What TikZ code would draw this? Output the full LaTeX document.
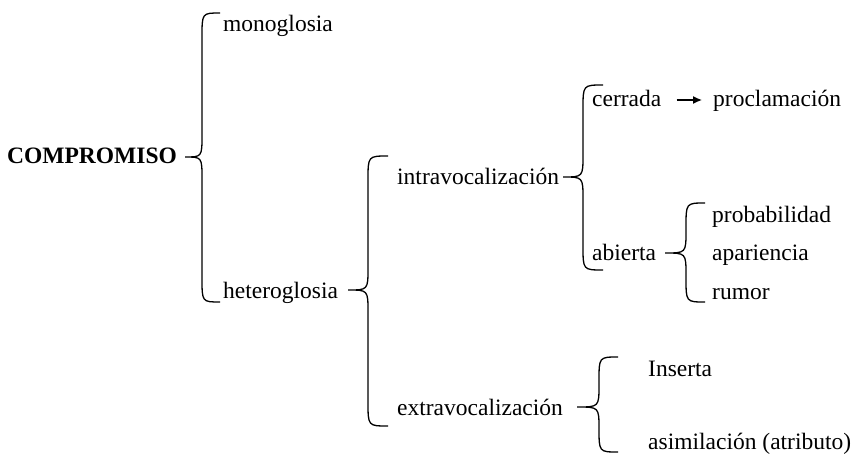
\documentclass[tikz,border=0pt]{standalone}
\usepackage{fontspec}
\setmainfont{Liberation Serif}
\usepackage{tikz}
\usetikzlibrary{calc}
\usetikzlibrary{arrows.meta}
\newcommand{\curly}[6]{\draw[brc] ( #6 , #4 ) .. controls ( #3 , #4 ) .. ( #3 , #4 + 24 ) -- ( #3 , #2 - 22 ) .. controls ( #3 , #2 ) .. ( #1 , #2 ) .. controls ( #3 , #2 ) .. ( #3 , #2 + 22 ) -- ( #3 , #5 - 24 ) .. controls ( #3 , #5 ) .. ( #6 , #5 );}
\tikzset{
  lbl/.style={anchor=base west, inner sep=0pt, font=\fontsize{23.5}{28}\selectfont},
  brc/.style={line width=1.3pt},
  arr/.style={line width=1.3pt, -{Latex[length=9pt,width=8pt]}}
}
\begin{document}
\begin{tikzpicture}[x=1pt, y=-1pt]
            \useasboundingbox (0,0) rectangle (854,455);
            % level 1
            \node[lbl, font=\fontsize{23.5}{28}\selectfont\bfseries] (compromiso) at (7,163) {COMPROMISO};
            \curly{185}{157}{202}{13}{302}{220}
            \node[lbl] (mono) at (223,31) {monoglosia};
            \node[lbl] (hetero) at (223,298) {heteroglosia};
            % level 2
            \curly{348}{290}{368}{156}{426}{388}
            \node[lbl] (intra) at (397,184) {intravocalización};
            \node[lbl] (extra) at (397,415) {extravocalización};
            % level 3
            \curly{563}{177}{583}{85}{270}{603}
            \node[lbl] (cerrada) at (592,106) {cerrada};
            \node[lbl] (procl) at (713,106) {proclamación};
            \draw[arr] ($(cerrada.base east)+(15,-6)$) -- ($(procl.base west)+(-11,-6)$);
            \node[lbl] (abierta) at (592,260) {abierta};
            \curly{665}{253}{686}{203}{302}{705}
            \node[lbl] (prob) at (712,222) {probabilidad};
            \node[lbl] (apar) at (712,260) {apariencia};
            \node[lbl] (rumor) at (712,299) {rumor};
            % level 3, extra
            \curly{577}{407}{599}{357}{452}{618}
            \node[lbl] (inserta) at (648,376) {Inserta};
            \node[lbl] (asim) at (648,449) {asimilación (atributo)};
        \end{tikzpicture}
\end{document}
